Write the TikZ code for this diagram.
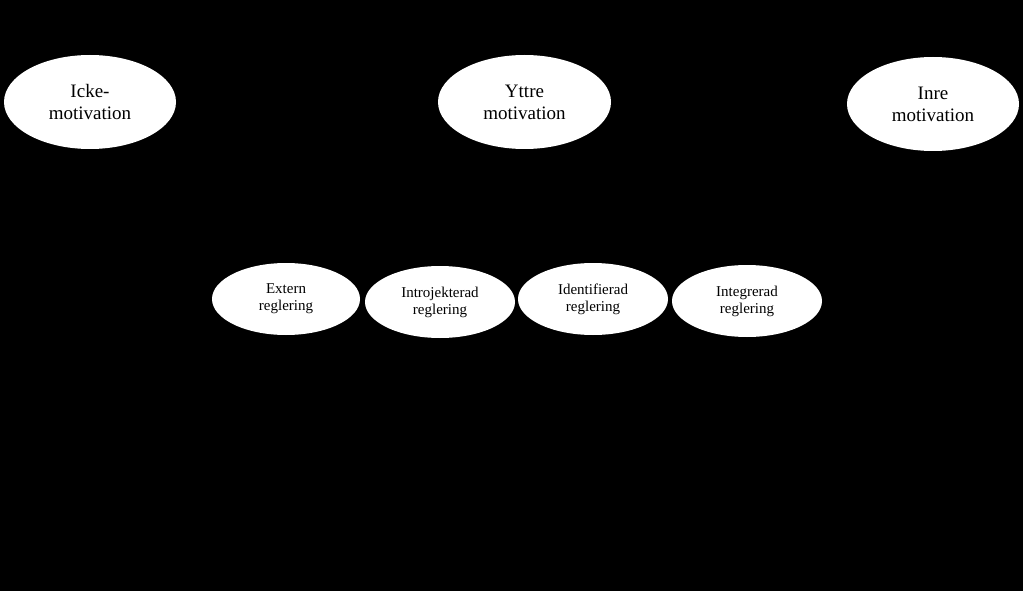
\documentclass[tikz,border=0pt]{standalone}
\usepackage{fontspec}
\setmainfont{Liberation Serif}
\usetikzlibrary{shapes.geometric}
\begin{document}
\begin{tikzpicture}[x=1pt,y=-1pt,
  big/.style={ellipse,fill=white,draw=none,inner sep=0pt,align=center,font=\fontsize{19}{22}\selectfont},
  small/.style={ellipse,fill=white,draw=none,inner sep=0pt,align=center,font=\fontsize{15}{17}\selectfont}]
\fill[black] (0,0) rectangle (1023,591);
\useasboundingbox (0,0) rectangle (1023,591);
\node[big,minimum width=172pt,minimum height=94pt] (icke) at (90,102) {Icke-\\motivation};
\node[big,minimum width=173pt,minimum height=94pt] (yttre) at (524.5,102) {Yttre\\motivation};
\node[big,minimum width=172pt,minimum height=94pt] (inre) at (933,104) {Inre\\motivation};
\node[small,minimum width=148pt,minimum height=72pt] (extern) at (286,299) {Extern\\reglering};
\node[small,minimum width=150pt,minimum height=72pt] (intro) at (440,302) {Introjekterad\\reglering};
\node[small,minimum width=150pt,minimum height=72pt] (ident) at (593,299) {Identifierad\\reglering};
\node[small,minimum width=150pt,minimum height=72pt] (integ) at (747,301) {Integrerad\\reglering};
\end{tikzpicture}
\end{document}
